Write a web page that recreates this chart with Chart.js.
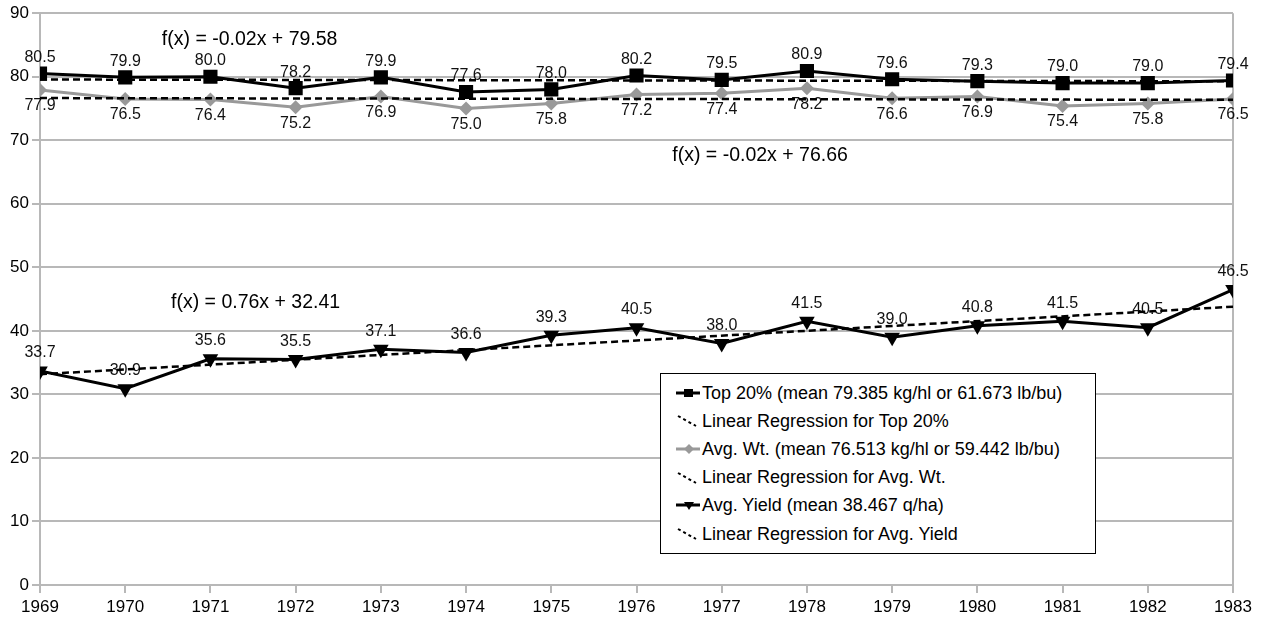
<!DOCTYPE html>
<html>
<head>
<meta charset="utf-8">
<script src="https://cdn.jsdelivr.net/npm/chart.js@4"></script>
<style>
html,body{margin:0;padding:0;background:#fff;}
#wrap{position:relative;width:1264px;height:625px;}
#legend{position:absolute;left:660px;top:373px;width:436px;height:181px;border:1.5px solid #000;box-sizing:border-box;background:#fff;font-family:'Liberation Sans',Arial,sans-serif;font-size:18px;color:#000;}
.row{position:absolute;left:15px;height:24px;display:flex;align-items:center;white-space:nowrap;}
.row svg{margin-right:2px;}
</style>
</head>
<body>
<div id="wrap">
<canvas id="c" width="1264" height="625"></canvas>
<div id="legend"></div>
</div>
<script>
const years = [1969,1970,1971,1972,1973,1974,1975,1976,1977,1978,1979,1980,1981,1982,1983];
const top20 = [80.5,79.9,80.0,78.2,79.9,77.6,78.0,80.2,79.5,80.9,79.6,79.3,79.0,79.0,79.4];
const avgWt = [77.9,76.5,76.4,75.2,76.9,75.0,75.8,77.2,77.4,78.2,76.6,76.9,75.4,75.8,76.5];
const avgYield = [33.7,30.9,35.6,35.5,37.1,36.6,39.3,40.5,38.0,41.5,39.0,40.8,41.5,40.5,46.5];
// regression line end values (first year, last year)
const trendTop = [79.56, 79.28];
const trendWt = [76.64, 76.36];
const trendYield = [33.17, 43.81];
const yTicks = [0,10,20,30,40,50,60,70,80,90];
const seriesNames = [
  'Top 20% (mean 79.385 kg/hl or 61.673 lb/bu)',
  'Linear Regression for Top 20%',
  'Avg. Wt. (mean 76.513 kg/hl or 59.442 lb/bu)',
  'Linear Regression for Avg. Wt.',
  'Avg. Yield (mean 38.467 q/ha)',
  'Linear Regression for Avg. Yield'
];
const equations = [
  {text:'f(x) = -0.02x + 79.58', x:1971.46, y:85.9},
  {text:'f(x) = -0.02x + 76.66', x:1977.45, y:67.65},
  {text:'f(x) = 0.76x + 32.41', x:1971.53, y:44.4}
];

const FONT = "'Liberation Sans', Arial, sans-serif";
const GRID = '#b8b8b8';
const pts = arr => years.map((yr,i)=>({x:yr,y:arr[i]}));
const trend = t => [{x:years[0],y:t[0]},{x:years[years.length-1],y:t[1]}];

const labelPlugin = {
  id:'valLabels',
  afterDatasetDraw(chart, args){
    const ds = chart.data.datasets[args.index];
    if(!ds.labelPos) return;
    const ctx = chart.ctx;
    ctx.save();
    ctx.font = '16px ' + FONT;
    ctx.fillStyle = '#111';
    ctx.textAlign = 'center';
    ctx.textBaseline = 'middle';
    args.meta.data.forEach((p,i)=>{
      const v = ds.data[i].y;
      const off = ds.labelPos === 'above' ? -ds.labelOff : ds.labelOff;
      ctx.fillText(v.toFixed(1), p.x, p.y + off);
    });
    ctx.restore();
  }
};
const eqPlugin = {
  id:'eqs',
  afterDatasetsDraw(chart){
    const ctx = chart.ctx, xs = chart.scales.x, ys = chart.scales.y;
    ctx.save();
    ctx.font = '19.5px ' + FONT;
    ctx.fillStyle = '#000';
    ctx.textAlign = 'center';
    ctx.textBaseline = 'middle';
    equations.forEach(e=>ctx.fillText(e.text, xs.getPixelForValue(e.x), ys.getPixelForValue(e.y)));
    ctx.restore();
  }
};

new Chart(document.getElementById('c'), {
  type:'line',
  data:{datasets:[
    {label:seriesNames[0], data:pts(top20), borderColor:'#000', backgroundColor:'#000', borderWidth:3,
     pointStyle:'rect', pointRadius:10, pointBorderWidth:0, pointBackgroundColor:'#000', order:2,
     labelPos:'above', labelOff:16},
    {label:seriesNames[1], data:trend(trendTop), borderColor:'#000', borderWidth:2.5, borderDash:[7,4], pointRadius:0, order:0},
    {label:seriesNames[2], data:pts(avgWt), borderColor:'#999', backgroundColor:'#999', borderWidth:3,
     pointStyle:'rectRot', pointRadius:7, pointBorderWidth:0, pointBackgroundColor:'#999', order:3,
     labelPos:'below', labelOff:16},
    {label:seriesNames[3], data:trend(trendWt), borderColor:'#000', borderWidth:2.5, borderDash:[7,4], pointRadius:0, order:0},
    {label:seriesNames[4], data:pts(avgYield), borderColor:'#000', backgroundColor:'#000', borderWidth:3,
     pointStyle:'triangle', pointRotation:180, pointRadius:9, pointBorderWidth:0, pointBackgroundColor:'#000', order:2,
     labelPos:'above', labelOff:18},
    {label:seriesNames[5], data:trend(trendYield), borderColor:'#000', borderWidth:2.5, borderDash:[7,4], pointRadius:0, order:0}
  ]},
  options:{
    responsive:false, animation:false, devicePixelRatio:1,
    layout:{padding:{left:0,top:13,right:31,bottom:0}},
    plugins:{legend:{display:false}, tooltip:{enabled:false}},
    elements:{line:{tension:0}},
    scales:{
      x:{type:'linear', min:years[0], max:years[years.length-1],
         afterFit(s){s.height=40;},
         afterBuildTicks(s){s.ticks = years.map(v=>({value:v}));},
         ticks:{callback:v=>String(v), font:{family:FONT,size:17}, color:'#000', padding:4, maxRotation:0, autoSkip:false},
         border:{display:true,color:GRID,width:2},
         grid:{drawOnChartArea:true, lineWidth:2, tickLength:8, tickColor:GRID,
               color:c=>c.index===years.length-1?GRID:'rgba(0,0,0,0)'}},
      y:{min:0,max:90,
         afterFit(s){s.width=40;},
         afterBuildTicks(s){s.ticks = yTicks.map(v=>({value:v}));},
         ticks:{font:{family:FONT,size:17}, color:'#000', padding:3},
         border:{display:true,color:GRID,width:2},
         grid:{color:GRID, lineWidth:2, tickLength:8}}
    }
  },
  plugins:[labelPlugin, eqPlugin]
});

// HTML legend
const icons = [
  '<svg width="24" height="16"><line x1="0" y1="8" x2="24" y2="8" stroke="#000" stroke-width="3"/><rect x="8" y="4" width="9" height="8" fill="#000"/></svg>',
  '<svg width="24" height="16"><line x1="2" y1="3" x2="20" y2="13" stroke="#000" stroke-width="2" stroke-dasharray="3,3"/></svg>',
  '<svg width="24" height="16"><line x1="0" y1="8" x2="24" y2="8" stroke="#999" stroke-width="3"/><polygon points="13,3 18,8 13,13 8,8" fill="#999"/></svg>',
  '<svg width="24" height="16"><line x1="2" y1="3" x2="20" y2="13" stroke="#000" stroke-width="2" stroke-dasharray="3,3"/></svg>',
  '<svg width="24" height="16"><line x1="0" y1="7" x2="24" y2="7" stroke="#000" stroke-width="3"/><polygon points="8,4 18,4 13,12" fill="#000"/></svg>',
  '<svg width="24" height="16"><line x1="2" y1="3" x2="20" y2="13" stroke="#000" stroke-width="2" stroke-dasharray="3,3"/></svg>'
];
const leg = document.getElementById('legend');
seriesNames.forEach((n,i)=>{
  const r = document.createElement('div');
  r.className='row';
  r.style.top = (7 + i*28.2) + 'px';
  r.innerHTML = icons[i] + '<span>' + n + '</span>';
  leg.appendChild(r);
});
</script>
</body>
</html>
